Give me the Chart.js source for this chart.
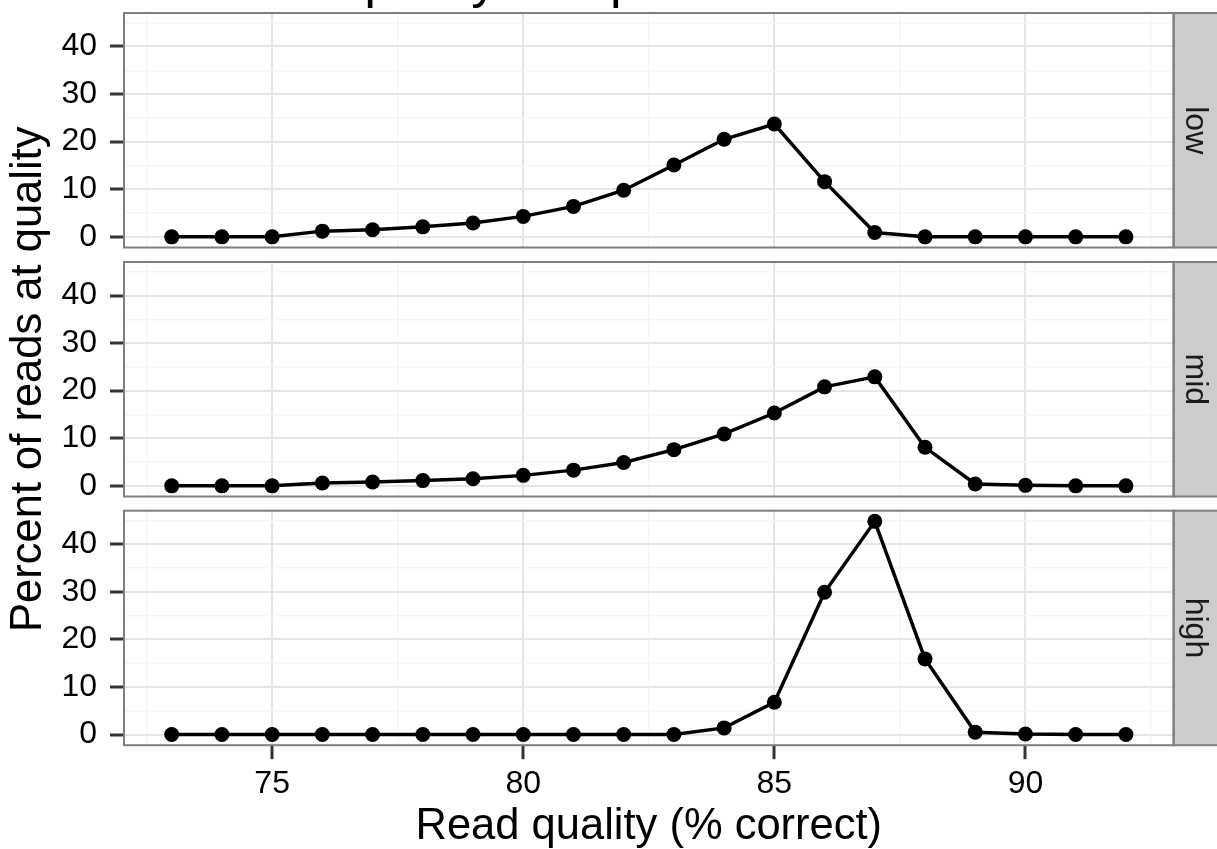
<!DOCTYPE html>
<html>
<head>
<meta charset="utf-8">
<script src="https://cdn.jsdelivr.net/npm/chart.js@4.4.1/dist/chart.umd.min.js"></script>
<style>
  html, body { margin: 0; padding: 0; background: #ffffff; overflow: hidden; }
  #wrap { position: relative; width: 1217px; height: 849px; overflow: hidden; }
  canvas { position: absolute; left: 0; top: 0; }
  #c1 { top: -43px; }
</style>
</head>
<body>
<div id="wrap">
  <canvas id="c1" width="1217" height="892"></canvas>
  <canvas id="c2" width="1217" height="849"></canvas>
  <canvas id="c3" width="1217" height="849"></canvas>
</div>
<script>
// ---- data ----
const quality = [73, 74, 75, 76, 77, 78, 79, 80, 81, 82, 83, 84, 85, 86, 87, 88, 89, 90, 91, 92];
const lowPct  = [0, 0, 0, 1.2, 1.5, 2.1, 2.9, 4.3, 6.4, 9.8, 15.1, 20.5, 23.7, 11.6, 0.9, 0, 0, 0, 0, 0];
const midPct  = [0, 0, 0, 0.6, 0.8, 1.1, 1.5, 2.2, 3.3, 4.9, 7.6, 10.9, 15.3, 20.8, 22.9, 8.1, 0.4, 0.1, 0, 0];
const highPct = [0, 0, 0, 0, 0, 0, 0, 0, 0, 0, 0, 1.4, 6.8, 29.9, 44.8, 15.9, 0.5, 0.1, 0, 0];
const facetLabels = ['low', 'mid', 'high'];
const xMajorTicks = [75, 80, 85, 90];
const xMinorTicks = [72.5, 77.5, 82.5, 87.5, 92.5];
const yMajorTicks = [0, 10, 20, 30, 40];
const yMinorTicks = [5, 15, 25, 35, 45];
const titleText = 'Read quality comparison of modes';
const xTitle = 'Read quality (% correct)';
const yTitle = 'Percent of reads at quality';

// ---- layout constants ----
const H = 849;
const C1_OFFSET = 43;      // first canvas is shifted up so the title is cut at the top edge
const AXIS_W = 124;        // y-axis area width
const STRIP_W = 43.4;      // facet strip width
const PANEL_H = 234.5;
const panelTops = [13, 262, 510.7];
const X_MIN = 72.05, X_MAX = 92.95;
const Y_MIN = -2.24, Y_MAX = 47.04;

Chart.defaults.font.family = "'Liberation Sans', Arial, Helvetica, sans-serif";
Chart.defaults.color = '#000000';

const isIn = (arr, v) => arr.some(a => Math.abs(a - v) < 1e-6);

const panelPlugin = {
  id: 'panelDecor',
  afterDraw(chart, args, opts) {
    const {ctx, chartArea} = chart;
    const {left, top, right, bottom} = chartArea;
    ctx.save();
    // strip
    ctx.fillStyle = '#cccccc';
    ctx.fillRect(right, top, chart.width - right + 2, bottom - top);
    ctx.strokeStyle = '#7f7f7f';
    ctx.lineWidth = 2;
    ctx.strokeRect(right, top, chart.width - right + 4, bottom - top);
    // panel border
    ctx.strokeRect(left, top, right - left, bottom - top);
    // strip label
    ctx.translate(right + (chart.width - right) / 2, (top + bottom) / 2);
    ctx.rotate(Math.PI / 2);
    ctx.fillStyle = '#1a1a1a';
    ctx.font = "32px 'Liberation Sans', Arial, Helvetica, sans-serif";
    ctx.textAlign = 'center';
    ctx.textBaseline = 'middle';
    ctx.fillText(opts.label, 0, 0);
    ctx.restore();
  }
};

function makeChart(id, idx, values) {
  const isTop = idx === 0, isMid = idx === 1, isBottom = idx === 2;
  const canvasH = isTop ? H + C1_OFFSET : H;
  const shift = isTop ? C1_OFFSET : 0;
  const top = panelTops[idx] + shift;
  const bottom = top + PANEL_H;
  const padTop = isTop ? 0 : top;
  const padBottom = isBottom ? 0 : (canvasH - bottom);

  return new Chart(document.getElementById(id), {
    type: 'line',
    data: {
      datasets: [{
        data: quality.map((q, i) => ({x: q, y: values[i]})),
        borderColor: '#000000',
        backgroundColor: '#000000',
        borderWidth: 3.5,
        pointRadius: 7.5,
        pointHoverRadius: 7.5,
        pointBorderWidth: 0,
        pointBackgroundColor: '#000000',
        tension: 0,
        fill: false
      }]
    },
    options: {
      responsive: false,
      animation: false,
      events: [],
      layout: { autoPadding: false, padding: { left: 0, right: 0, top: padTop, bottom: padBottom } },
      plugins: {
        legend: { display: false },
        tooltip: { enabled: false },
        title: {
          display: isTop,
          text: titleText,
          color: '#000000',
          font: { size: 52, lineHeight: 1, weight: 'normal' },
          padding: { top: 0, bottom: C1_OFFSET + panelTops[0] - 52 }
        },
        panelDecor: { label: facetLabels[idx] }
      },
      scales: {
        x: {
          type: 'linear',
          min: X_MIN, max: X_MAX,
          afterBuildTicks: s => { s.ticks = xMinorTicks.concat(xMajorTicks).sort((a, b) => a - b).map(v => ({value: v})); },
          afterFit: s => { s.height = isBottom ? (canvasH - bottom) : 0; },
          border: { display: false },
          grid: {
            color: c => isIn(xMajorTicks, c.tick.value) ? '#e6e6e6' : '#f5f5f5',
            lineWidth: c => isIn(xMajorTicks, c.tick.value) ? 2 : 1.5,
            drawTicks: isBottom,
            tickLength: 14,
            tickColor: c => isIn(xMajorTicks, c.tick.value) ? '#333333' : 'rgba(0,0,0,0)',
            tickWidth: 3
          },
          ticks: {
            display: isBottom,
            autoSkip: false,
            maxRotation: 0,
            padding: 6,
            color: '#000000',
            font: { size: 32 },
            callback: v => isIn(xMajorTicks, v) ? String(v) : ''
          },
          title: {
            display: isBottom,
            text: xTitle,
            color: '#000000',
            font: { size: 43.5, lineHeight: 1 },
            padding: { top: 0, bottom: 0 }
          }
        },
        y: {
          type: 'linear',
          min: Y_MIN, max: Y_MAX,
          afterBuildTicks: s => { s.ticks = yMajorTicks.concat(yMinorTicks).sort((a, b) => a - b).map(v => ({value: v})); },
          afterFit: s => { s.width = AXIS_W; },
          border: { display: false },
          grid: {
            color: c => isIn(yMajorTicks, c.tick.value) ? '#e6e6e6' : '#f5f5f5',
            lineWidth: c => isIn(yMajorTicks, c.tick.value) ? 2 : 1.5,
            drawTicks: true,
            tickLength: 14,
            tickColor: c => isIn(yMajorTicks, c.tick.value) ? '#333333' : 'rgba(0,0,0,0)',
            tickWidth: 3
          },
          ticks: {
            autoSkip: false,
            padding: 13,
            color: '#000000',
            font: { size: 32 },
            callback: v => isIn(yMajorTicks, v) ? String(v) : ''
          },
          title: {
            display: isMid,
            text: yTitle,
            color: '#000000',
            font: { size: 43.5, lineHeight: 1 },
            padding: { top: 7, bottom: 0 }
          }
        },
        yStrip: {
          type: 'linear',
          position: 'right',
          display: true,
          afterFit: s => { s.width = STRIP_W; },
          border: { display: false },
          grid: { display: false, drawTicks: false },
          ticks: { display: false }
        }
      }
    },
    plugins: [panelPlugin]
  });
}

makeChart('c1', 0, lowPct);
makeChart('c2', 1, midPct);
makeChart('c3', 2, highPct);
</script>
</body>
</html>
